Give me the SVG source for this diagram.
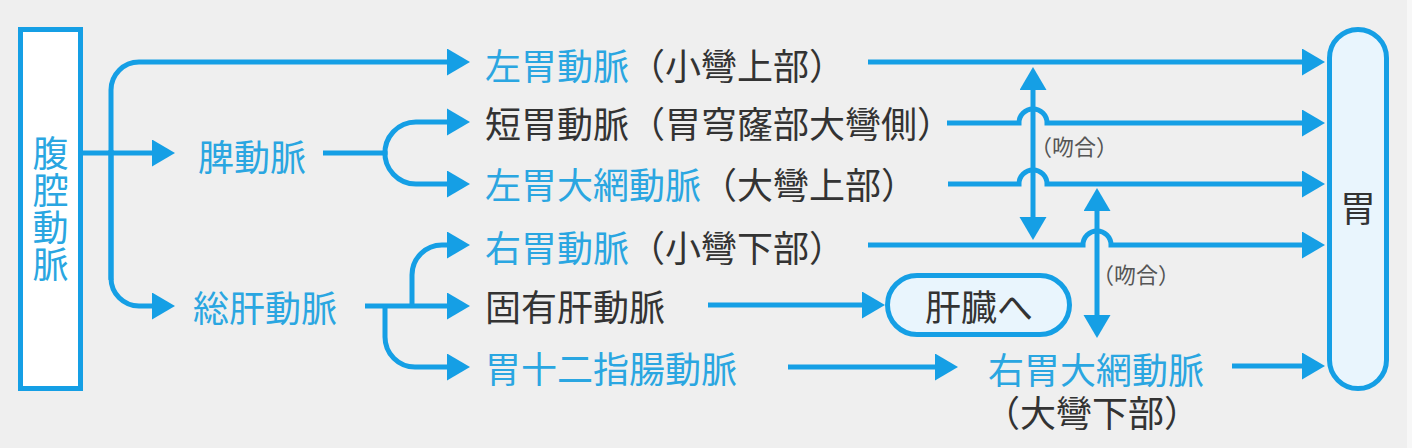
<svg xmlns="http://www.w3.org/2000/svg" width="1412" height="448" viewBox="0 0 1412 448">
<style>
.ln{fill:none;stroke:#159fe5;stroke-width:5;}
.t{font-family:"Noto Sans CJK JP","Noto Sans CJK SC",sans-serif;font-size:36px;dominant-baseline:central;}
.b{fill:#2aa6e1;}
.k{fill:#333;}
.s{font-family:"Noto Sans CJK JP","Noto Sans CJK SC",sans-serif;font-size:22px;fill:#555;dominant-baseline:central;}
.box{fill:#fff;stroke:#159fe5;stroke-width:5;}
.pill{fill:#e9f5fd;stroke:#159fe5;stroke-width:5;}
</style>
<defs>
<marker id="ah" markerUnits="userSpaceOnUse" markerWidth="24" markerHeight="28" refX="15" refY="13.5" orient="auto" viewBox="0 0 24 28">
<path d="M0,0 L23,13.5 L0,27 z" fill="#159fe5"/>
</marker>
</defs>
<rect x="0" y="0" width="1412" height="448" fill="#efefef"/>
<rect x="1407" y="0" width="5" height="448" fill="#f7f7f7"/>

<g id="celiac">
<rect class="box" x="20.5" y="29.5" width="60" height="359"/>
<text class="b" x="50.5" y="135" writing-mode="tb" style="font-family:'Noto Sans CJK JP','Noto Sans CJK SC',sans-serif;font-size:36px;letter-spacing:1px">腹腔動脈</text>
</g>

<g id="splenic"><text class="t b" x="198" y="155">脾動脈</text></g>
<g id="common-hepatic"><text class="t b" x="193" y="306">総肝動脈</text></g>

<g id="left-gastric"><text class="t" x="485" y="64"><tspan class="b">左胃動脈</tspan><tspan class="k">（小彎上部）</tspan></text></g>
<g id="short-gastric"><text class="t k" x="485" y="122">短胃動脈（胃穹窿部大彎側）</text></g>
<g id="left-gastroepiploic"><text class="t" x="485" y="183"><tspan class="b">左胃大網動脈</tspan><tspan class="k">（大彎上部）</tspan></text></g>
<g id="right-gastric"><text class="t" x="485" y="246"><tspan class="b">右胃動脈</tspan><tspan class="k">（小彎下部）</tspan></text></g>
<g id="proper-hepatic"><text class="t k" x="485" y="305">固有肝動脈</text></g>
<g id="gastroduodenal"><text class="t b" x="485" y="367">胃十二指腸動脈</text></g>

<g id="liver">
<rect class="pill" x="887.5" y="275.5" width="182" height="59" rx="29.5"/>
<text class="t k" x="979" y="305" text-anchor="middle">肝臓へ</text>
</g>

<g id="right-gastroepiploic">
<text class="t" text-anchor="middle"><tspan class="b" x="1096" y="368">右胃大網動脈</tspan><tspan class="k" x="1092" y="411">（大彎下部）</tspan></text>
</g>

<g id="stomach">
<rect class="pill" x="1329.5" y="29.5" width="57" height="359" rx="28.5"/>
<text class="t k" x="1358" y="206" text-anchor="middle">胃</text>
</g>

<g id="anastomosis-labels">
<text class="s" x="1030" y="145">（吻合）</text>
<text class="s" x="1092" y="273">（吻合）</text>
</g>

<g id="connectors">
<path class="ln" d="M83,153 H167" marker-end="url(#ah)"/>
<path class="ln" d="M111,280 V90 A28,28 0 0 1 139,62 H462" marker-end="url(#ah)"/>
<path class="ln" d="M111,150 V278 A28,28 0 0 0 139,306 H167" marker-end="url(#ah)"/>

<path class="ln" d="M323,153 H387"/>
<path class="ln" d="M385,155 A31,31 0 0 1 416,122 H462" marker-end="url(#ah)"/>
<path class="ln" d="M385,151 A31,31 0 0 0 416,184 H462" marker-end="url(#ah)"/>

<path class="ln" d="M365,306 H462" marker-end="url(#ah)"/>
<path class="ln" d="M412,308 V275 A30,30 0 0 1 442,245 H462" marker-end="url(#ah)"/>
<path class="ln" d="M385,304 V337 A30,30 0 0 0 415,367 H462" marker-end="url(#ah)"/>

<path class="ln" d="M868,62 H1317" marker-end="url(#ah)"/>
<path class="ln" d="M947,123 H1019 A14,14 0 0 1 1047,123 H1317" marker-end="url(#ah)"/>
<path class="ln" d="M948,184 H1019 A14,14 0 0 1 1047,184 H1317" marker-end="url(#ah)"/>
<path class="ln" d="M868,245 H1083 A14,14 0 0 1 1111,245 H1317" marker-end="url(#ah)"/>

<path class="ln" d="M1033,150 V75" marker-end="url(#ah)"/>
<path class="ln" d="M1033,150 V232" marker-end="url(#ah)"/>
<path class="ln" d="M1097,260 V196" marker-end="url(#ah)"/>
<path class="ln" d="M1097,260 V330" marker-end="url(#ah)"/>

<path class="ln" d="M708,305 H877" marker-end="url(#ah)"/>
<path class="ln" d="M788,367 H950" marker-end="url(#ah)"/>
<path class="ln" d="M1232,366 H1317" marker-end="url(#ah)"/>
</g>
</svg>
